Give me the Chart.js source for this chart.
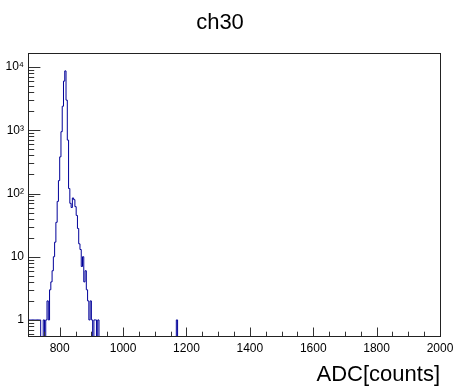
<!DOCTYPE html>
<html><head><meta charset="utf-8">
<script src="https://cdn.jsdelivr.net/npm/chart.js@4/dist/chart.umd.min.js"></script>
<style>html,body{margin:0;padding:0;background:#fff}#wrap{width:453px;height:389px;position:relative}</style>
</head><body><div id="wrap"><canvas id="c" width="453" height="389"></canvas></div>
<script>
// ---- data ----
const chartTitle = 'ch30';
const xAxisTitle = 'ADC[counts]';
const binWidth = 4;
const binLowEdges = [700,704,708,712,716,720,724,728,732,736,
  748,756,760,764,768,772,776,780,784,788,792,796,800,804,808,812,816,820,824,828,
  832,836,840,844,848,852,856,860,864,868,872,876,880,884,888,892,896,900,908,912,920,1168];
const binCounts = [1,1,1,1,1,1,1,1,1,1,
  1,1,2,1,3,4,6,10,17,35,75,160,380,950,2400,6000,8700,3000,700,120,
  70,60,85,80,62,45,28,16,13,7,10,4,6,3,2,1,2,1,1,1,1,1];
const xRange = [700, 2000];
const yRange = [0.557, 16700];
const xTickValues = [800,1000,1200,1400,1600,1800,2000];
const xTickLabels = ['800','1000','1200','1400','1600','1800','2000'];
const yTickValues = [1,10,100,1000,10000];
const yTickLabels = ['1','10','10\u00B2','10\u00B3','10\u2074'];

// ---- build step histogram from the arrays ----
const countByEdge = new Map(binLowEdges.map((e,i)=>[e,binCounts[i]]));
const FLOOR = 0.05; // empty bins drop below the axis minimum (clipped), as ROOT does
const pts = [];
for (let e = xRange[0]; e < xRange[1]; e += binWidth) {
  const c = countByEdge.get(e) || 0;
  pts.push({x: e, y: c > 0 ? c : FLOOR});
}
pts.push({x: xRange[1], y: FLOOR});

const FONT = '"Liberation Sans", Arial, Helvetica, sans-serif';

const rootFrame = {
  id: 'rootFrame',
  afterDatasetsDraw(chart) {
    const {ctx, chartArea: a, scales: {x, y}} = chart;
    ctx.save();
    ctx.strokeStyle = '#333';
    ctx.lineWidth = 1;
    ctx.beginPath();
    for (let v = xRange[0] + 50; v < xRange[1]; v += 50) {
      const px = Math.round(x.getPixelForValue(v)) + 0.5;
      const len = (v % 200 === 0) ? 8.5 : 4.3;
      ctx.moveTo(px, a.bottom); ctx.lineTo(px, a.bottom - len);
    }
    for (let d = 0.1; d <= 1e5; d *= 10) {
      for (let m = 1; m <= 9; m++) {
        const v = d * m;
        if (v < yRange[0] || v > yRange[1]) continue;
        const py = Math.round(y.getPixelForValue(v)) + 0.5;
        const len = (m === 1) ? 12.4 : 6.2;
        ctx.moveTo(a.left, py); ctx.lineTo(a.left + len, py);
      }
    }
    ctx.stroke();
    ctx.strokeStyle = '#222';
    ctx.strokeRect(Math.round(a.left)+0.5, Math.round(a.top)+0.5, Math.round(a.right-a.left), Math.round(a.bottom-a.top));
    ctx.restore();
  }
};

new Chart(document.getElementById('c'), {
  type: 'line',
  data: { datasets: [{
    data: pts,
    stepped: true,
    borderColor: '#000099',
    borderWidth: 1,
    pointRadius: 0,
    fill: false,
    tension: 0
  }]},
  options: {
    responsive: false,
    animation: false,
    devicePixelRatio: 1,
    layout: { padding: { left: 0, right: 13, top: 0, bottom: 0 } },
    plugins: {
      legend: { display: false },
      tooltip: { enabled: false },
      title: {
        display: true, text: chartTitle, color: '#000',
        font: { family: FONT, size: 22, weight: 'normal', lineHeight: 1.2 },
        padding: { top: 10, bottom: 16.6 }
      }
    },
    scales: {
      x: {
        type: 'linear', min: xRange[0], max: xRange[1],
        grid: { display: false, drawTicks: false, tickLength: 0 },
        border: { display: false },
        afterBuildTicks: s => { s.ticks = xTickValues.map(v => ({value: v})); },
        afterFit: s => { s.height = 53; s.paddingRight = 0; s.paddingLeft = 0; },
        ticks: {
          autoSkip: false, maxRotation: 0, padding: 5, color: '#000',
          font: { family: FONT, size: 12 },
          callback: (v) => { const i = xTickValues.indexOf(v); return i >= 0 ? xTickLabels[i] : ''; }
        },
        title: {
          display: true, text: xAxisTitle, align: 'end', color: '#000',
          font: { family: FONT, size: 22 }, padding: { top: 0, bottom: 1 }
        }
      },
      y: {
        type: 'logarithmic', min: yRange[0], max: yRange[1],
        grid: { display: false, drawTicks: false, tickLength: 0 },
        border: { display: false },
        afterBuildTicks: s => { s.ticks = yTickValues.map(v => ({value: v})); },
        afterFit: s => { s.width = 28; s.paddingTop = 0; s.paddingBottom = 0; },
        ticks: {
          autoSkip: false, padding: 4, color: '#000',
          font: { family: FONT, size: 12 },
          callback: (v) => { const i = yTickValues.indexOf(v); return i >= 0 ? yTickLabels[i] : ''; }
        }
      }
    }
  },
  plugins: [rootFrame]
});
</script>
</body></html>
